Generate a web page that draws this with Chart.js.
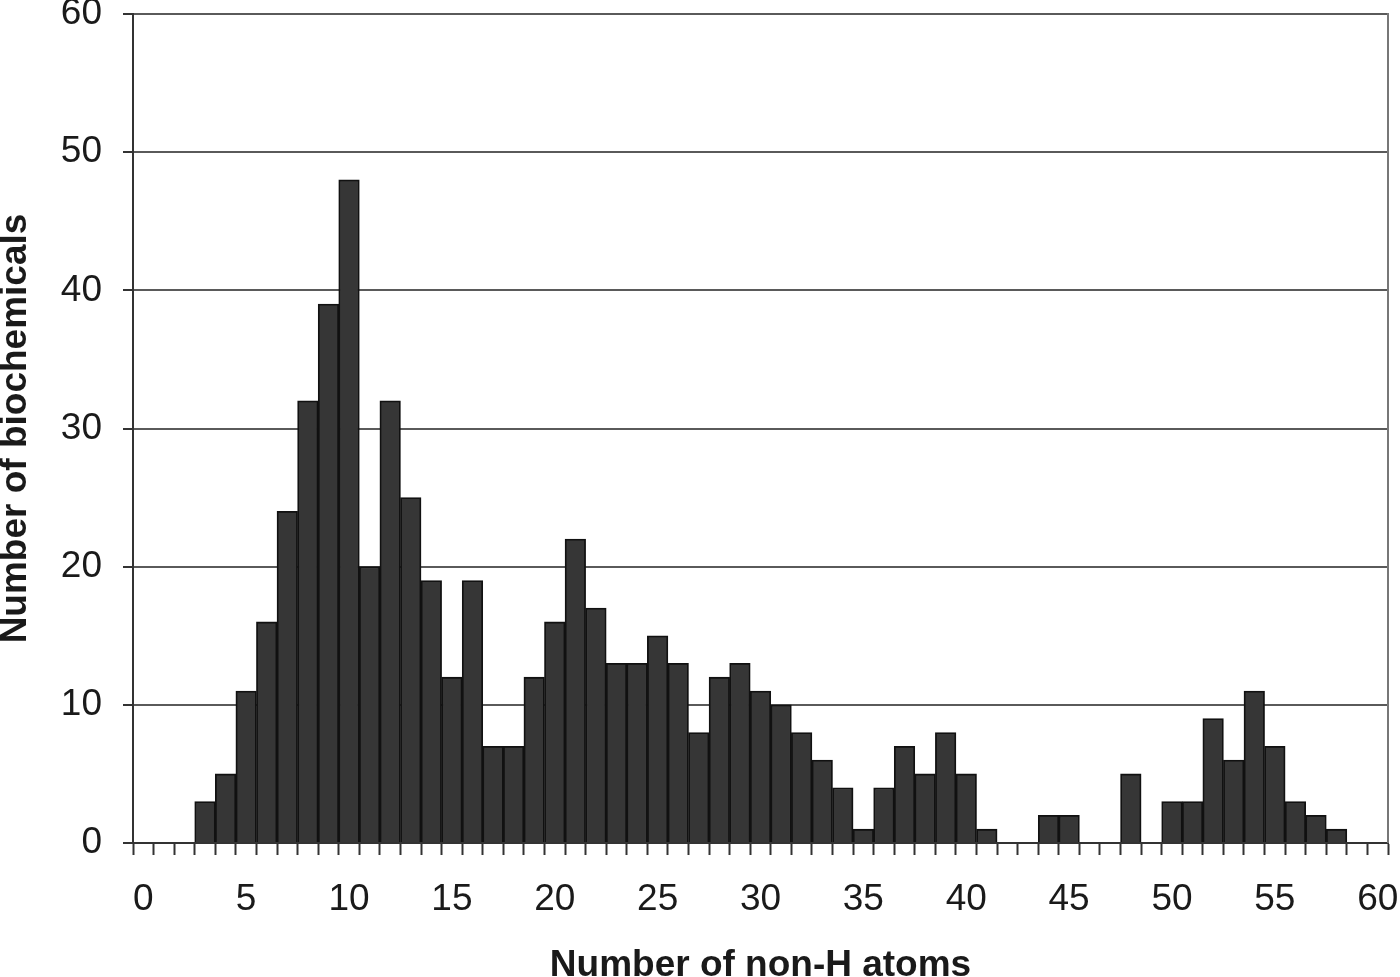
<!DOCTYPE html>
<html>
<head>
<meta charset="utf-8">
<script src="https://cdn.jsdelivr.net/npm/chart.js@4/dist/chart.umd.min.js"></script>
<style>
  html, body { margin: 0; padding: 0; background: #fff; }
  #wrap { width: 1400px; height: 977px; }
</style>
</head>
<body>
<div id="wrap"><canvas id="myChart"></canvas></div>
<script>
"use strict";

// number of non-H atoms (bins)
var atomCounts = [0, 1, 2, 3, 4, 5, 6, 7, 8, 9, 10, 11, 12, 13, 14, 15, 16, 17, 18, 19, 20,
    21, 22, 23, 24, 25, 26, 27, 28, 29, 30, 31, 32, 33, 34, 35, 36, 37, 38, 39, 40,
    41, 42, 43, 44, 45, 46, 47, 48, 49, 50, 51, 52, 53, 54, 55, 56, 57, 58, 59, 60];
// number of biochemicals in each bin
var biochemicals = [0, 0, 0, 3, 5, 11, 16, 24, 32, 39, 48, 20, 32, 25, 19, 12, 19, 7, 7, 12, 16,
    22, 17, 13, 13, 15, 13, 8, 12, 13, 11, 10, 8, 6, 4, 1, 4, 7, 5, 8, 5,
    1, 0, 0, 2, 2, 0, 0, 5, 0, 3, 3, 9, 6, 11, 7, 3, 2, 1, 0, 0];
var yTicks = [0, 10, 20, 30, 40, 50, 60];

var FONT = "Arial, 'Liberation Sans', sans-serif";

// right edge of the plot box
var rightBorder = {
    id: 'rightBorder',
    afterDraw: function(chart) {
        var ctx = chart.ctx;
        var a = chart.chartArea;
        ctx.save();
        ctx.strokeStyle = '#777';
        ctx.lineWidth = 2;
        ctx.beginPath();
        ctx.moveTo(a.right, a.top - 1);
        ctx.lineTo(a.right, a.bottom);
        ctx.stroke();
        ctx.restore();
    }
};

var ctx = document.getElementById("myChart").getContext('2d');
var myChart = new Chart(ctx, {
    type: 'bar',
    data: {
        labels: atomCounts.map(String),
        datasets: [{
            data: biochemicals,
            backgroundColor: '#363636',
            borderColor: '#111',
            borderWidth: 1.8,
            barPercentage: 1,
            categoryPercentage: 1,
            label: 'Biochemicals'
        }]
    },
    options: {
        responsive: true,
        maintainAspectRatio: false,
        animation: false,
        layout: {
            padding: { left: 0, right: 12, top: 14, bottom: 0 }
        },
        plugins: {
            legend: { display: false },
            tooltip: { enabled: false }
        },
        scales: {
            x: {
                type: 'category',
                offset: true,
                grid: {
                    offset: true,
                    drawOnChartArea: false,
                    drawTicks: true,
                    tickLength: 12,
                    tickColor: '#333',
                    tickWidth: 2
                },
                border: { color: '#333', width: 2 },
                ticks: {
                    autoSkip: false,
                    maxRotation: 0,
                    minRotation: 0,
                    padding: 23,
                    color: '#1a1a1a',
                    font: { family: FONT, size: 37 },
                    callback: function(v, i) {
                        return i % 5 === 0 ? this.getLabelForValue(v) : '';
                    }
                },
                title: {
                    display: true,
                    text: 'Number of non-H atoms',
                    color: '#1a1a1a',
                    padding: 0,
                    font: { family: FONT, size: 37, weight: 'bold', lineHeight: 0.6 }
                },
                afterFit: function(scale) {
                    scale.height = 134;
                    scale.paddingLeft = 0;
                    scale.paddingRight = 0;
                }
            },
            y: {
                min: 0,
                max: 60,
                afterBuildTicks: function(scale) {
                    scale.ticks = yTicks.map(function(v) { return { value: v }; });
                },
                grid: {
                    color: '#5a5a5a',
                    lineWidth: 2,
                    tickLength: 10,
                    tickColor: '#333',
                    tickWidth: 2
                },
                border: { color: '#333', width: 2 },
                ticks: {
                    padding: 21,
                    color: '#1a1a1a',
                    font: { family: FONT, size: 37 }
                },
                title: {
                    display: true,
                    text: 'Number of biochemicals',
                    color: '#1a1a1a',
                    padding: { top: 1, bottom: 0 },
                    font: { family: FONT, size: 37, weight: 'bold', lineHeight: 0.8 }
                },
                afterFit: function(scale) {
                    scale.width = 133;
                    scale.paddingTop = 0;
                    scale.paddingBottom = 0;
                }
            }
        }
    },
    plugins: [rightBorder]
});
</script>
</body>
</html>
